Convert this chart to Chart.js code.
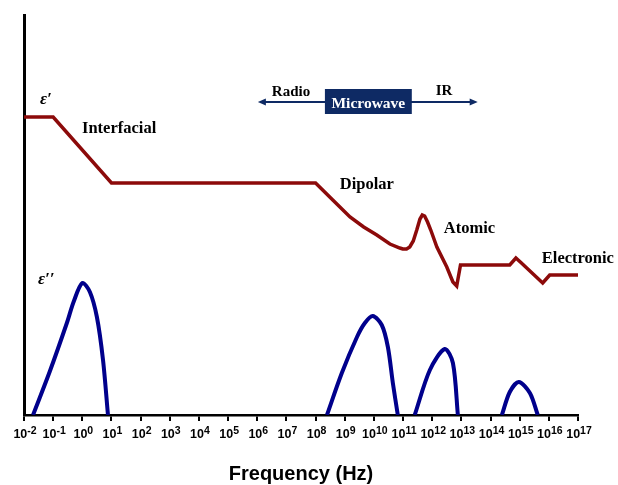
<!DOCTYPE html>
<html>
<head>
<meta charset="utf-8">
<script src="https://cdn.jsdelivr.net/npm/chart.js@4.4.1/dist/chart.umd.min.js"></script>
<style>
  body { margin: 0; background: #fff; }
  canvas { display: block; }
</style>
</head>
<body>
<canvas id="dielectricChart" width="618" height="485"></canvas>
<script>
// x values are log10(frequency / Hz)
const tickExponents = ['-2', '-1', '0', '1', '2', '3', '4', '5', '6', '7', '8', '9', '10', '11', '12', '13', '14', '15', '16', '17'];

// real part (epsilon')
const realLogF = [-2, -1, 1, 8, 8.59, 9.18, 9.65, 10.1, 10.55, 10.89, 10.99, 11.12, 11.23, 11.35, 11.47, 11.58, 11.66, 11.74, 11.84, 11.95, 12.16, 12.5, 12.71, 12.84, 12.97, 14.66, 14.87, 15.06, 15.79, 16.03, 17];
const realVal = [298, 298, 232, 232, 215, 198, 188, 180, 171, 167, 166, 166, 168, 174, 185, 196, 200, 199, 193, 185, 168, 148, 133, 129, 150, 150, 157, 152, 132, 140, 140];

// imaginary part (epsilon'') peaks
const interfacialLogF = [-1.69, -1.11, -0.53, -0.3, 0, 0.26, 0.5, 0.71, 0.88];
const interfacialVal = [0, 44, 92, 113, 132, 123, 98, 55, 0];
const dipolarLogF = [8.39, 8.9, 9.42, 9.69, 9.96, 10.27, 10.48, 10.65, 10.82];
const dipolarVal = [0, 42, 78, 92, 99, 90, 68, 32, 0];
const atomicLogF = [11.4, 11.92, 12.43, 12.71, 12.88];
const atomicVal = [0, 45, 66, 52, 0];
const electronicLogF = [14.39, 14.66, 14.97, 15.35, 15.62];
const electronicVal = [0, 23, 33, 22, 0];

const RED = '#8c0a0a';
const BLUE = '#00008c';
const NAVY = '#0e2a64';

function toPoints(xs, ys) {
  return xs.map((x, i) => ({ x: x, y: ys[i] }));
}

function lossSet(xs, ys) {
  return {
    data: toPoints(xs, ys),
    borderColor: BLUE,
    borderWidth: 4,
    pointRadius: 0,
    tension: 0.3,
    fill: false
  };
}

// labels, spectrum bar and exponent tick labels
const decorPlugin = {
  id: 'decor',
  afterDraw(chart) {
    const ctx = chart.ctx;
    const xs = chart.scales.x;
    const ys = chart.scales.y;
    const px = v => xs.getPixelForValue(v);
    const py = v => ys.getPixelForValue(v);

    ctx.save();
    ctx.textBaseline = 'alphabetic';
    ctx.textAlign = 'left';
    ctx.fillStyle = '#000';

    ctx.font = 'italic bold 17px "Liberation Serif"';
    ctx.fillText('ε′', px(-1.45), py(311));
    ctx.fillText('ε′′', px(-1.52), py(131));

    ctx.font = 'bold 16.5px "Liberation Serif"';
    ctx.fillText('Interfacial', px(-0.01), py(282));
    ctx.fillText('Dipolar', px(8.83), py(226));
    ctx.fillText('Atomic', px(12.40), py(182));
    ctx.fillText('Electronic', px(15.76), py(152));

    // spectrum arrow
    const ay = py(313);
    const ax0 = px(6.02), ax1 = px(13.56);
    ctx.strokeStyle = NAVY;
    ctx.fillStyle = NAVY;
    ctx.lineWidth = 2;
    ctx.beginPath();
    ctx.moveTo(ax0 + 4, ay);
    ctx.lineTo(ax1 - 4, ay);
    ctx.stroke();
    ctx.beginPath();
    ctx.moveTo(ax0, ay);
    ctx.lineTo(ax0 + 8, ay - 3.5);
    ctx.lineTo(ax0 + 8, ay + 3.5);
    ctx.closePath();
    ctx.fill();
    ctx.beginPath();
    ctx.moveTo(ax1, ay);
    ctx.lineTo(ax1 - 8, ay - 3.5);
    ctx.lineTo(ax1 - 8, ay + 3.5);
    ctx.closePath();
    ctx.fill();

    const bx0 = px(8.32), bx1 = px(11.30);
    const by0 = py(326), by1 = py(301);
    ctx.fillRect(bx0, by0, bx1 - bx0, by1 - by0);
    ctx.fillStyle = '#fff';
    ctx.font = 'bold 15.5px "Liberation Serif"';
    ctx.textAlign = 'center';
    ctx.fillText('Microwave', (bx0 + bx1) / 2, by1 - 6);

    ctx.fillStyle = '#000';
    ctx.font = 'bold 15px "Liberation Serif"';
    ctx.textAlign = 'left';
    ctx.fillText('Radio', px(6.5), py(319));
    ctx.fillText('IR', px(12.12), py(320));

    // tick labels 10^n
    const base = 'bold 12.5px "Liberation Sans"';
    const sup = 'bold 10.5px "Liberation Sans"';
    const tickY = xs.top + 23;
    xs.ticks.forEach((t, i) => {
      const exp = tickExponents[i];
      ctx.font = base;
      const w1 = ctx.measureText('10').width;
      ctx.font = sup;
      const w2 = ctx.measureText(exp).width;
      const left = xs.getPixelForValue(t.value) - (w1 + w2) / 2 + 1;
      ctx.font = base;
      ctx.fillText('10', left, tickY);
      ctx.font = sup;
      ctx.fillText(exp, left + w1, tickY - 4.5);
    });

    ctx.font = 'bold 20px "Liberation Sans"';
    ctx.textAlign = 'center';
    ctx.fillText('Frequency (Hz)', (xs.left + xs.right) / 2, 480);
    ctx.restore();
  }
};

new Chart(document.getElementById('dielectricChart'), {
  type: 'line',
  data: {
    datasets: [
      {
        data: toPoints(realLogF, realVal),
        borderColor: RED,
        borderWidth: 3.5,
        pointRadius: 0,
        tension: 0,
        fill: false
      },
      lossSet(interfacialLogF, interfacialVal),
      lossSet(dipolarLogF, dipolarVal),
      lossSet(atomicLogF, atomicVal),
      lossSet(electronicLogF, electronicVal)
    ]
  },
  options: {
    responsive: false,
    animation: false,
    layout: { padding: { left: 24, right: 40, top: 15, bottom: 0 } },
    plugins: {
      legend: { display: false },
      tooltip: { enabled: false }
    },
    scales: {
      x: {
        type: 'linear',
        min: -2,
        max: 17,
        ticks: { stepSize: 1, display: false },
        grid: { display: true, drawOnChartArea: false, drawTicks: true, tickLength: 6, lineWidth: 2, color: '#000' },
        border: { display: true, color: '#000', width: 2.5 },
        afterFit(scale) { scale.height = 70; }
      },
      y: {
        min: 0,
        max: 400,
        ticks: { display: false },
        grid: { display: false },
        border: { display: true, color: '#000', width: 3 },
        afterFit(scale) { scale.width = 0; }
      }
    }
  },
  plugins: [decorPlugin]
});
</script>
</body>
</html>
